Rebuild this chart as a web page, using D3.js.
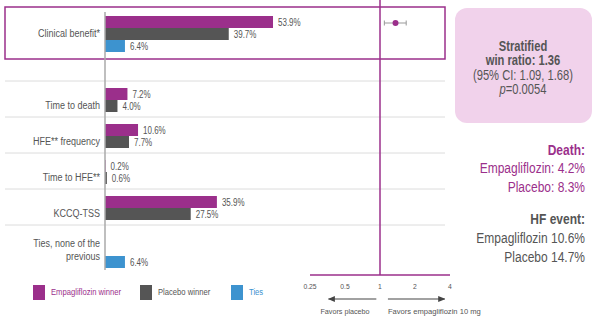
<!DOCTYPE html>
<html><head><meta charset="utf-8">
<script src="https://cdn.jsdelivr.net/npm/d3@7"></script>
<style>
html,body{margin:0;padding:0;background:#fff;}
svg text{font-family:"Liberation Sans",Arial,sans-serif;}
</style></head>
<body><svg id="chart" width="600" height="323"></svg>
<script>
// ---- data ----
const categories = ["Clinical benefit*", "", "Time to death", "HFE** frequency", "Time to HFE**", "KCCQ-TSS", "Ties, none of the previous"];
const series = ["Empagliflozin winner", "Placebo winner", "Ties"];
const empaWinner = [53.9, null, 7.2, 10.6, 0.2, 35.9, null];
const placeboWinner = [39.7, null, 4.0, 7.7, 0.6, 27.5, null];
const ties = [6.4, null, null, null, null, null, 6.4];
const forestTicks = [0.25, 0.5, 1, 2, 4];
const winRatio = 1.36, ciLow = 1.09, ciHigh = 1.68;
const boxLines = ["Stratified", "win ratio: 1.36", "(95% CI: 1.09, 1.68)", "p=0.0054"];
const deathLines = ["Death:", "Empagliflozin: 4.2%", "Placebo: 8.3%"];
const hfLines = ["HF event:", "Empagliflozin 10.6%", "Placebo 14.7%"];

const PURPLE = "#9b2f8b", GRAY = "#555555", BLUE = "#3d93cf", TXT = "#555";
const colors = [PURPLE, GRAY, BLUE];
const svg = d3.select("#chart");

// horizontally condense text around its anchor x (reference uses a narrow face)
function narrow(sel, k) {
  sel.each(function () {
    const x = +d3.select(this).attr("x");
    d3.select(this).attr("transform", `translate(${x},0) scale(${k},1) translate(${-x},0)`);
  });
  return sel;
}

// ---- scales ----
const x = d3.scaleLinear().domain([0, 100]).range([105, 105 + 311.7]);
const rowY = d3.scaleBand().domain(categories).range([16, 16 + 36 * categories.length]).padding(0);
const barY = d3.scaleBand().domain(series).range([0, 36]);
const fx = d3.scaleLog().base(2).domain([0.25, 4]).range([310, 450]);

// clinical benefit box
svg.append("rect").attr("x", 5).attr("y", 7).attr("width", 440).attr("height", 52)
  .attr("fill", "none").attr("stroke", PURPLE).attr("stroke-width", 1.5);

// separators
categories.slice(2).forEach(c => {
  svg.append("line").attr("x1", 5).attr("x2", 445)
    .attr("y1", rowY(c) - 7).attr("y2", rowY(c) - 7)
    .attr("stroke", "#dcdcdc").attr("stroke-width", 1);
});

// bars
const rows = [];
categories.forEach((c, i) => {
  [empaWinner[i], placeboWinner[i], ties[i]].forEach((v, s) => {
    if (v != null) rows.push({cat: c, s: series[s], v, color: colors[s]});
  });
});
const g = svg.append("g");
g.selectAll("rect.bar").data(rows).join("rect").attr("class", "bar")
  .attr("x", x(0)).attr("y", d => rowY(d.cat) + barY(d.s))
  .attr("width", d => Math.max(0, x(d.v) - x(0))).attr("height", barY.bandwidth())
  .attr("fill", d => d.color);
narrow(g.selectAll("text.val").data(rows).join("text").attr("class", "val")
  .attr("x", d => x(d.v) + 5).attr("y", d => rowY(d.cat) + barY(d.s) + barY.bandwidth() / 2 + 1)
  .attr("dominant-baseline", "middle").attr("font-size", 10).attr("fill", TXT)
  .text(d => d.v.toFixed(1) + "%"), 0.8);

// baseline
svg.append("line").attr("x1", x(0)).attr("x2", x(0)).attr("y1", 12).attr("y2", 270)
  .attr("stroke", "#aaa").attr("stroke-width", 1.5);

// category labels
categories.forEach(c => {
  if (!c) return;
  const t = svg.append("text").attr("x", 100).attr("text-anchor", "end")
    .attr("font-size", 11).attr("fill", TXT);
  if (c.startsWith("Ties")) {
    t.append("tspan").attr("x", 100).attr("y", rowY(c) + 12).attr("dominant-baseline", "middle").text("Ties, none of the");
    t.append("tspan").attr("x", 100).attr("y", rowY(c) + 25).attr("dominant-baseline", "middle").text("previous");
  } else {
    t.attr("y", rowY(c) + 18).attr("dominant-baseline", "middle").text(c);
  }
  narrow(t, 0.82);
});

// legend
const lg = svg.append("g");
const legX = [33, 140, 231];
series.forEach((s, i) => {
  lg.append("rect").attr("x", legX[i]).attr("y", 285).attr("width", 12).attr("height", 15).attr("fill", colors[i]);
  narrow(lg.append("text").attr("x", legX[i] + 18).attr("y", 293).attr("dominant-baseline", "middle")
    .attr("font-size", 9).attr("fill", i === 1 ? TXT : colors[i]).text(s), 0.85);
});

// forest plot
svg.append("line").attr("x1", fx(1)).attr("x2", fx(1)).attr("y1", 0).attr("y2", 275)
  .attr("stroke", PURPLE).attr("stroke-width", 1.5);
svg.append("line").attr("x1", fx(0.25)).attr("x2", fx(4)).attr("y1", 275).attr("y2", 275)
  .attr("stroke", PURPLE).attr("stroke-width", 1.5);
narrow(svg.selectAll("text.ft").data(forestTicks).join("text").attr("class", "ft")
  .attr("x", d => fx(d)).attr("y", 287).attr("text-anchor", "middle").attr("dominant-baseline", "middle")
  .attr("font-size", 8).attr("fill", TXT).text(d => d), 0.85);
const cy = rowY(categories[0]) + 7;
svg.append("line").attr("x1", fx(ciLow)).attr("x2", fx(ciHigh)).attr("y1", cy).attr("y2", cy).attr("stroke", "#999").attr("stroke-width", 1);
[ciLow, ciHigh].forEach(v => svg.append("line").attr("x1", fx(v)).attr("x2", fx(v)).attr("y1", cy - 2.5).attr("y2", cy + 2.5).attr("stroke", "#999"));
svg.append("circle").attr("cx", fx(winRatio)).attr("cy", cy).attr("r", 3).attr("fill", PURPLE);

// arrows
const defs = svg.append("defs");
defs.append("marker").attr("id", "ah").attr("viewBox", "0 0 10 10").attr("refX", 9).attr("refY", 5)
  .attr("markerWidth", 6).attr("markerHeight", 6).attr("orient", "auto-start-reverse")
  .append("path").attr("d", "M0,1 L10,5 L0,9 Z").attr("fill", "#444");
svg.append("line").attr("x1", fx(0.93)).attr("x2", fx(0.36)).attr("y1", 299).attr("y2", 299)
  .attr("stroke", "#444").attr("stroke-width", 1.2).attr("marker-end", "url(#ah)");
svg.append("line").attr("x1", fx(1.17)).attr("x2", fx(3.6)).attr("y1", 299).attr("y2", 299)
  .attr("stroke", "#444").attr("stroke-width", 1.2).attr("marker-end", "url(#ah)");
narrow(svg.append("text").attr("x", fx(0.5)).attr("y", 312).attr("text-anchor", "middle").attr("dominant-baseline", "middle")
  .attr("font-size", 8).attr("fill", TXT).text("Favors placebo"), 0.9);
narrow(svg.append("text").attr("x", fx(1.17)).attr("y", 312).attr("dominant-baseline", "middle")
  .attr("font-size", 8).attr("fill", TXT).text("Favors empagliflozin 10 mg"), 0.95);

// right box
svg.append("rect").attr("x", 455).attr("y", 8).attr("width", 137).attr("height", 115).attr("rx", 12)
  .attr("fill", "#f1d2eb");
boxLines.forEach((l, i) => {
  const t = svg.append("text").attr("x", 523).attr("y", 47 + i * 14.5).attr("text-anchor", "middle")
    .attr("dominant-baseline", "middle").attr("font-size", 14).attr("fill", TXT)
    .attr("font-weight", i < 2 ? "bold" : "normal");
  if (l.startsWith("p=")) {
    t.append("tspan").attr("font-style", "italic").text("p");
    t.append("tspan").text(l.slice(1));
  } else t.text(l);
  narrow(t, 0.8);
});
deathLines.forEach((l, i) => {
  narrow(svg.append("text").attr("x", 585).attr("y", 151 + i * 18.5).attr("text-anchor", "end")
    .attr("dominant-baseline", "middle").attr("font-size", 15).attr("fill", PURPLE)
    .attr("font-weight", i === 0 ? "bold" : "normal").text(l), 0.8);
});
hfLines.forEach((l, i) => {
  narrow(svg.append("text").attr("x", 585).attr("y", 220 + i * 19).attr("text-anchor", "end")
    .attr("dominant-baseline", "middle").attr("font-size", 15).attr("fill", TXT)
    .attr("font-weight", i === 0 ? "bold" : "normal").text(l), 0.8);
});
</script></body></html>
